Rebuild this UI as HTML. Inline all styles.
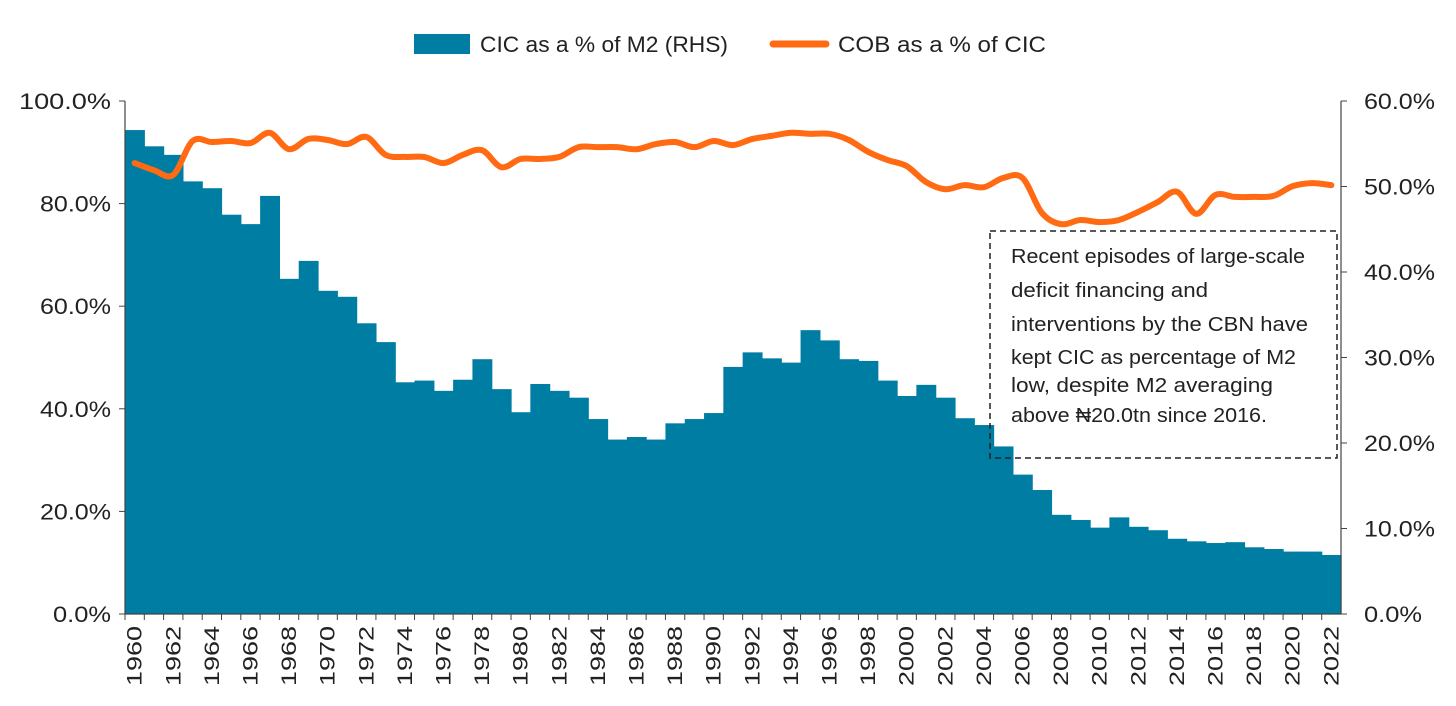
<!DOCTYPE html>
<html><head><meta charset="utf-8"><style>
html,body{margin:0;padding:0;background:#fff;}
svg{display:block;font-family:"Liberation Sans","DejaVu Sans",sans-serif;}
</style></head><body>
<svg id="chart" width="1456" height="706" viewBox="0 0 1456 706">
<g id="legend">
<rect x="414" y="34" width="56" height="20" fill="#007DA3"/>
<text x="480" y="52" font-size="22" fill="#222" textLength="248" lengthAdjust="spacingAndGlyphs">CIC as a % of M2 (RHS)</text>
<line x1="773" y1="44" x2="826" y2="44" stroke="#FF6A13" stroke-width="7" stroke-linecap="round"/>
<text x="838" y="52" font-size="22" fill="#222" textLength="208" lengthAdjust="spacingAndGlyphs">COB as a % of CIC</text>
</g>
<g id="bars"></g>
<path id="line" fill="none" stroke="#FF6A13" stroke-width="6" stroke-linejoin="round" stroke-linecap="round"/>
<g id="axes"></g>
<g>
<rect x="990" y="231" width="347" height="227" fill="none" stroke="#222" stroke-width="1.5" stroke-dasharray="6,4"/>
<text font-size="20" fill="#222">
<tspan x="1011" y="263" textLength="294" lengthAdjust="spacingAndGlyphs">Recent episodes of large-scale</tspan>
<tspan x="1011" y="297" textLength="197" lengthAdjust="spacingAndGlyphs">deficit financing and</tspan>
<tspan x="1011" y="331" textLength="297" lengthAdjust="spacingAndGlyphs">interventions by the CBN have</tspan>
<tspan x="1011" y="364" textLength="285" lengthAdjust="spacingAndGlyphs">kept CIC as percentage of M2</tspan>
<tspan x="1011" y="392" textLength="262" lengthAdjust="spacingAndGlyphs">low, despite M2 averaging</tspan>
<tspan x="1011" y="422" textLength="256" lengthAdjust="spacingAndGlyphs">above ₦20.0tn since 2016.</tspan>
</text>
</g>
</svg>
<script>
const years=[];for(let y=1960;y<=2022;y++)years.push(y);
const cicPct=[56.6,54.7,53.7,50.6,49.8,46.7,45.6,48.9,39.2,41.3,37.8,37.1,34.0,31.8,27.1,27.3,26.1,27.4,29.8,26.3,23.6,26.9,26.1,25.3,22.8,20.4,20.7,20.4,22.3,22.8,23.5,28.9,30.6,29.9,29.4,33.2,32.0,29.8,29.6,27.3,25.5,26.8,25.3,22.9,22.1,19.6,16.3,14.5,11.6,11.0,10.1,11.3,10.2,9.8,8.8,8.5,8.3,8.4,7.8,7.6,7.3,7.3,6.9];
const cobPct=[87.9,86.5,85.6,92.2,92.0,92.2,91.8,93.8,90.6,92.6,92.4,91.6,93.0,89.5,89.1,89.1,87.9,89.5,90.4,87.1,88.7,88.7,89.1,91.0,91.0,91.0,90.6,91.6,92.0,91.0,92.2,91.4,92.6,93.2,93.8,93.6,93.6,92.4,90.1,88.5,87.3,84.2,82.8,83.6,83.2,85.0,85.0,78.2,76.0,76.8,76.4,76.8,78.4,80.3,82.3,78.0,81.7,81.3,81.3,81.5,83.4,84.0,83.6];
const leftTicks=[0,20,40,60,80,100];
const rightTicks=[0,10,20,30,40,50,60];
const X0=125,X1=1341,Y0=614,Y1=101;
const bw=(X1-X0)/years.length;
const xs=i=>X0+bw*i, xc=i=>X0+bw*(i+0.5);
const yL=v=>Y0-(v/100)*(Y0-Y1), yR=v=>Y0-(v/60)*(Y0-Y1);
const NS='http://www.w3.org/2000/svg';
function mk(t,a,p){const e=document.createElementNS(NS,t);for(const k in a)e.setAttribute(k,a[k]);p.appendChild(e);return e;}
const bars=document.getElementById('bars');
cicPct.forEach((v,i)=>{const r=mk('rect',{x:xs(i),y:yR(v),width:bw+0.6,height:Y0-yR(v),fill:'#007DA3'},bars);

});
const pts=cobPct.map((v,i)=>[xc(i),yL(v)]);
let d='M'+pts[0][0]+','+pts[0][1];
for(let i=0;i<pts.length-1;i++){const p0=pts[Math.max(0,i-1)],p1=pts[i],p2=pts[i+1],p3=pts[Math.min(pts.length-1,i+2)];const t=6;
d+=` C${p1[0]+(p2[0]-p0[0])/t},${p1[1]+(p2[1]-p0[1])/t} ${p2[0]-(p3[0]-p1[0])/t},${p2[1]-(p3[1]-p1[1])/t} ${p2[0]},${p2[1]}`;}
document.getElementById('line').setAttribute('d',d);
const ax=document.getElementById('axes');
mk('line',{x1:X0,y1:Y1,x2:X0,y2:Y0,stroke:'#444','stroke-width':1.2},ax);
mk('line',{x1:X1,y1:Y1,x2:X1,y2:Y0,stroke:'#444','stroke-width':1.2},ax);
mk('line',{x1:X0,y1:Y0,x2:X1,y2:Y0,stroke:'#444','stroke-width':1.2},ax);
function wid(s){return s.length===6?92:(s.length===5?71:58);}
leftTicks.forEach(v=>{mk('line',{x1:X0-6,x2:X0,y1:yL(v),y2:yL(v),stroke:'#444'},ax);
const s=v.toFixed(1)+'%';
const t=mk('text',{x:X0-14,y:yL(v)+8,'text-anchor':'end','font-size':22,fill:'#222',textLength:wid(s),lengthAdjust:'spacingAndGlyphs'},ax);t.textContent=s;

});
rightTicks.forEach(v=>{mk('line',{x1:X1,x2:X1+6,y1:yR(v),y2:yR(v),stroke:'#444'},ax);
const s=v.toFixed(1)+'%';
const t=mk('text',{x:X1+23,y:yR(v)+8,'font-size':22,fill:'#222',textLength:wid(s),lengthAdjust:'spacingAndGlyphs'},ax);t.textContent=s;

});
years.forEach((y,i)=>{mk('line',{x1:xs(i),x2:xs(i),y1:Y0,y2:Y0+6,stroke:'#444'},ax);
if(i%2===0){const t=mk('text',{x:0,y:0,'text-anchor':'end','font-size':21,fill:'#222',textLength:60,lengthAdjust:'spacingAndGlyphs',transform:`translate(${xc(i)+7},${Y0+12}) rotate(-90)`},ax);t.textContent=y;

}});
</script>
</body></html>
